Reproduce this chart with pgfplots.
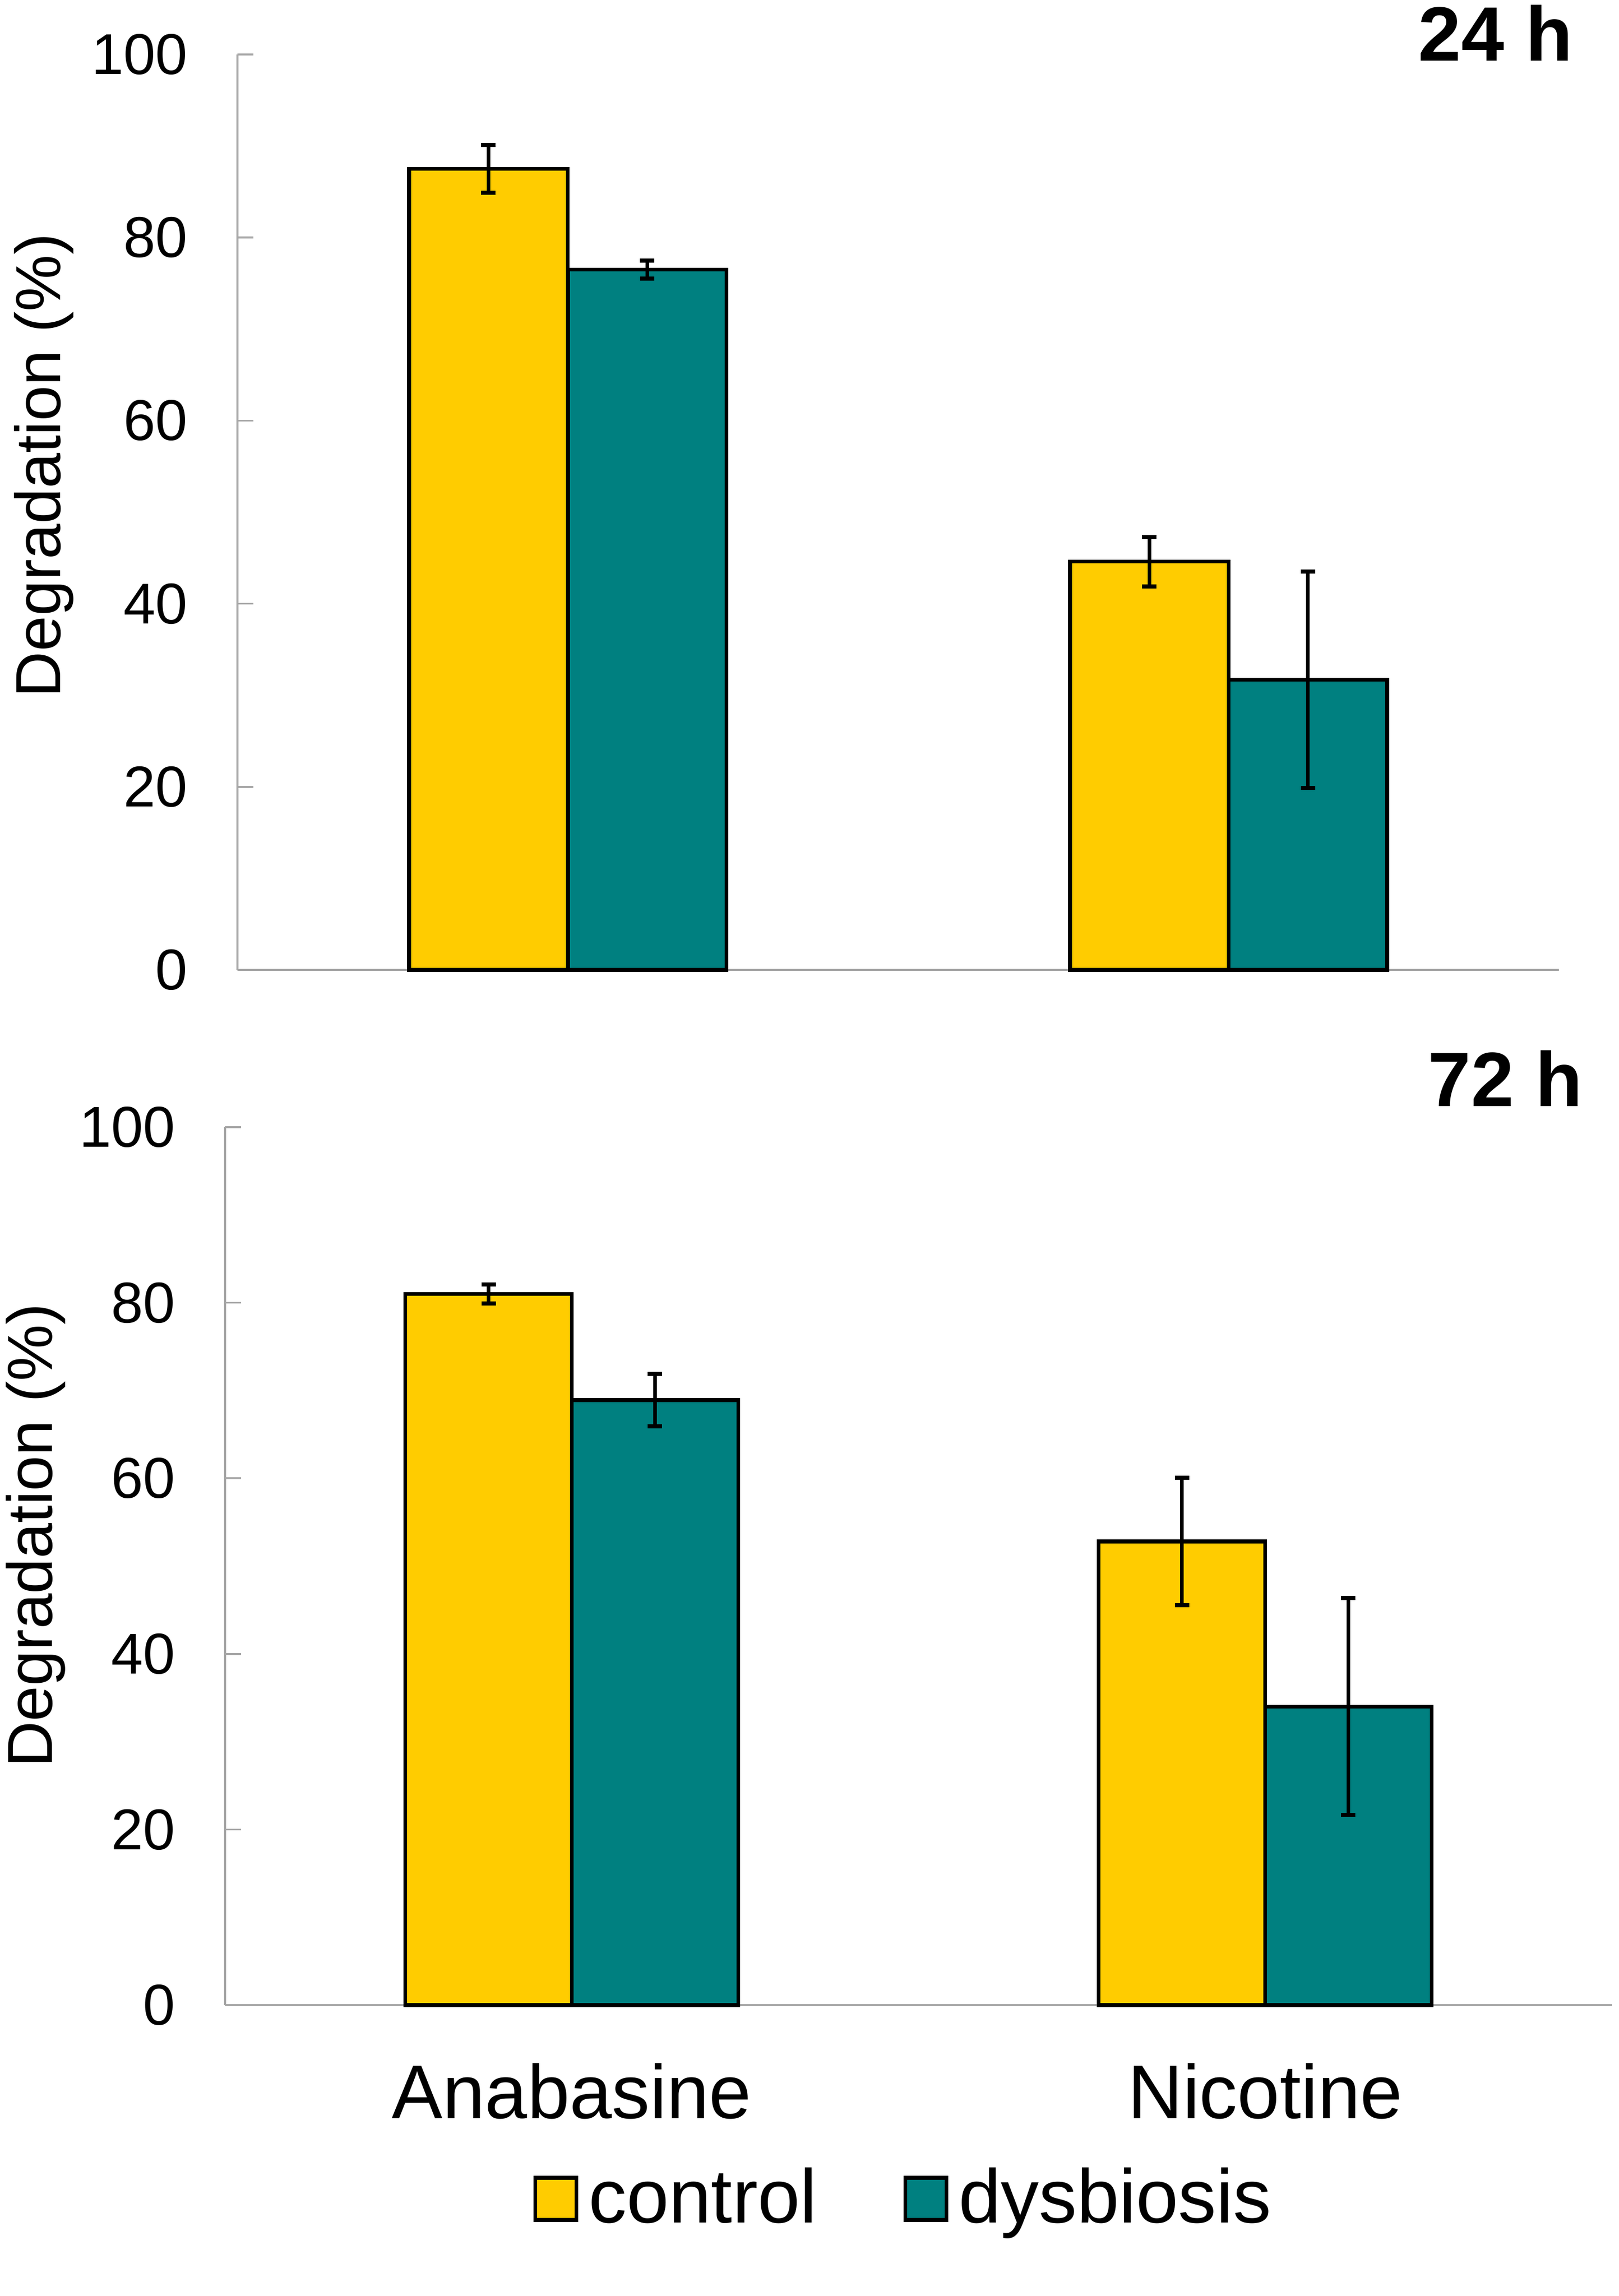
\documentclass[border=0pt]{standalone}
\usepackage{fontspec}
\setmainfont{Liberation Sans}
\usepackage{pgfplots}
\pgfplotsset{compat=1.18}
\definecolor{ctrl}{HTML}{FFCC00}
\definecolor{dysb}{HTML}{008080}
\definecolor{axgray}{HTML}{A6A6A6}
\pgfplotsset{
  myaxis/.style={
    scale only axis,
    clip=false,
    xmin=-0.5, xmax=1.5, ymin=0, ymax=100,
    axis x line=bottom, axis y line=left,
    axis line style={-, draw=axgray, line width=0.35pt},
    ytick={0,20,40,60,80,100},
    tick align=inside,
    major tick length=3.1pt,
    every tick/.style={axgray, line width=0.35pt},
    /pgf/number format/assume math mode=true,
    yticklabel style={font=\fontsize{11.2}{13}\selectfont, inner sep=0pt},
    yticklabel shift=9.5pt,
    ylabel={Degradation (\%)},
  },
  errstyle/.style={error bars/.cd, y dir=both, y explicit,
    error bar style={line width=0.7pt, black},
    error mark options={rotate=90, black, line width=0.8pt, mark size=1.4pt}},
  ctrlbar/.style={ybar, bar width=#1, bar shift=0pt, fill=ctrl, draw=black, line width=0.75pt,
    legend image code/.code={\draw[fill=ctrl, draw=black, line width=0.75pt] (0pt,-4.1pt) rectangle (8pt,4.1pt);},
    errstyle},
  dysbbar/.style={ybar, bar width=#1, bar shift=0pt, fill=dysb, draw=black, line width=0.75pt,
    legend image code/.code={\draw[fill=dysb, draw=black, line width=0.75pt] (0pt,-4.1pt) rectangle (8pt,4.1pt);},
    errstyle},
}
\begin{document}
\begin{tikzpicture}
\useasboundingbox (0,0) rectangle (315pt,-446.7pt);
% ---------- 24 h ----------
\begin{axis}[myaxis,
  at={(46.2pt,-188.7pt)}, anchor=south west,
  width=257.1pt, height=178.1pt,
  xtick=\empty,
  ylabel style={font=\fontsize{12.4}{15}\selectfont, inner sep=0pt,
    at={([xshift=-34.4pt]rel axis cs:0,0.551)}, anchor=base},
]
% control: Anabasine, Nicotine (bars centred 0.12 left of each group centre)
\addplot[ctrlbar=30.85pt] coordinates {(-0.12,87.5) +- (0,2.6) (0.88,44.6) +- (0,2.7)};
% dysbiosis
\addplot[dysbbar=30.85pt] coordinates {(0.12,76.5) +- (0,1.0) (1.12,31.7) +- (0,11.8)};
\end{axis}
\node[anchor=base east, inner sep=0pt, font=\bfseries\fontsize{15}{18}\selectfont] at (306.2pt,-11.9pt) {24 h};
% ---------- 72 h ----------
\begin{axis}[myaxis,
  at={(43.8pt,-390.1pt)}, anchor=south west,
  width=269.8pt, height=170.8pt,
  xtick={0,1}, xticklabels={Anabasine,Nicotine},
  major x tick style={draw=none},
  xticklabel style={font=\fontsize{14.8}{17}\selectfont, yshift=-7.8pt},
  ylabel style={font=\fontsize{12.4}{15}\selectfont, inner sep=0pt,
    at={([xshift=-33.6pt]rel axis cs:0,0.535)}, anchor=base},
  legend columns=2,
  legend style={at={(rel axis cs:0.2216,-0.2207)}, anchor=west, draw=none, fill=none,
    inner sep=0pt, font=\fontsize{14.8}{17}\selectfont,
    /tikz/every even column/.append style={column sep=14.8pt}},
]
\addplot[ctrlbar=32.38pt] coordinates {(-0.12,81.0) +- (0,1.1) (0.88,52.8) +- (0,7.25)};
\addlegendentry{control}
\addplot[dysbbar=32.38pt] coordinates {(0.12,68.9) +- (0,3.0) (1.12,34.0) +- (0,12.35)};
\addlegendentry{dysbiosis}
\end{axis}
\node[anchor=base east, inner sep=0pt, font=\bfseries\fontsize{15}{18}\selectfont] at (308.1pt,-215.2pt) {72 h};
\end{tikzpicture}
\end{document}
